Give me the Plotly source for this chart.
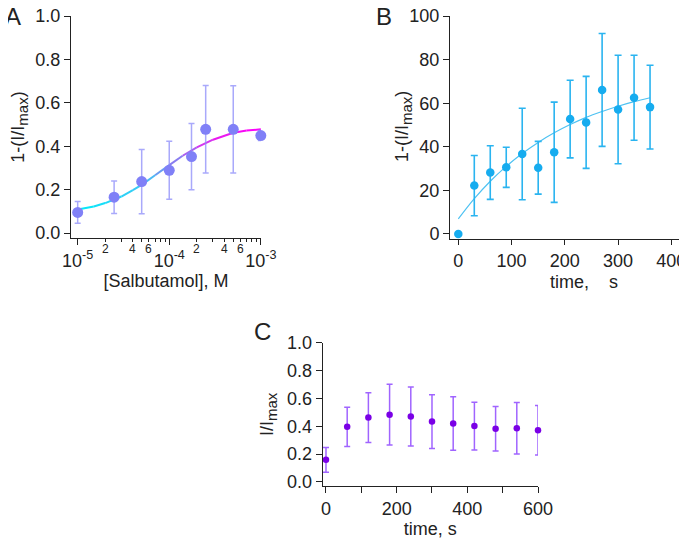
import numpy as np
import plotly.graph_objects as go
from plotly.colors import sample_colorscale

# ---- panel A: concentration response ----
conc = [1e-5, 2.5e-5, 5e-5, 1e-4, 1.75e-4, 2.5e-4, 5e-4, 1e-3]
resp_a = [0.095, 0.165, 0.237, 0.289, 0.352, 0.478, 0.478, 0.449]
err_a = [0.05, 0.075, 0.148, 0.134, 0.153, 0.202, 0.201, 0.023]
# fitted curve
fit_conc = [1e-5, 1.5e-5, 2e-5, 3e-5, 4e-5, 5e-5, 7e-5, 1e-4, 1.4e-4, 2e-4, 3e-4, 5e-4, 7e-4, 1e-3]
fit_a = [0.108, 0.122, 0.138, 0.168, 0.198, 0.222, 0.266, 0.313, 0.356, 0.395, 0.43, 0.462, 0.472, 0.478]
minor_a = [3e-5, 5e-5, 7e-5, 8e-5, 9e-5, 3e-4, 5e-4, 7e-4, 8e-4, 9e-4]
mid_labels_a = [2e-5, 4e-5, 6e-5, 2e-4, 4e-4, 6e-4]
mid_text_a = ["2", "4", "6", "2", "4", "6"]

# ---- panel B: time course ----
time_b = [0, 30, 60, 90, 120, 150, 180, 210, 240, 270, 300, 330, 360]
resp_b = [0, 22.2, 28.2, 30.6, 36.7, 30.4, 37.5, 52.7, 51.2, 66.1, 57.1, 62.5, 58.2]
err_b = [0, 13.8, 12.3, 9.2, 21.0, 12.1, 23.0, 17.8, 21.1, 25.9, 24.9, 19.5, 19.2]
fit_b = [6.9, 16.2, 24.2, 31.0, 36.9, 42.0, 46.4, 50.2, 53.5, 56.2, 58.6, 60.7, 62.5]

# ---- panel C: I/Imax over time ----
time_c = [0, 60, 120, 180, 240, 300, 360, 420, 480, 540, 600]
resp_c = [0.159, 0.396, 0.462, 0.483, 0.47, 0.434, 0.42, 0.401, 0.382, 0.386, 0.371]
err_c = [0.089, 0.141, 0.178, 0.218, 0.212, 0.193, 0.192, 0.172, 0.16, 0.185, 0.178]

# page body has an 8px margin, so the figure is shifted by OFF
OFF = 8
W, H = 687 - OFF, 539 - OFF
FONT = "Liberation Sans, Arial, sans-serif"
INK = "#222222"
NB = "\u00a0"


def px_x(a, b):
    return [(a - OFF) / W, (b - OFF) / W]


def px_y(top, bottom):
    return [1 - (bottom - OFF) / H, 1 - (top - OFF) / H]


def pos(x, y):
    return (x - OFF) / W, 1 - (y - OFF) / H


fig = go.Figure()

# gradient fit line for A, drawn as short segments
grad = [[0, "rgb(0,235,250)"], [0.35, "rgb(60,200,245)"], [0.5, "rgb(120,140,240)"],
        [0.62, "rgb(175,90,240)"], [0.7, "rgb(215,50,240)"], [0.85, "rgb(245,10,240)"],
        [1, "rgb(255,0,255)"]]
for i in range(len(fit_conc) - 1):
    f = (np.log10(fit_conc[i]) + np.log10(fit_conc[i + 1])) / 2
    f = (f + 5) / 2
    col = sample_colorscale(grad, [f])[0]
    fig.add_trace(go.Scatter(x=fit_conc[i:i + 2], y=fit_a[i:i + 2], mode="lines",
                             line=dict(color=col, width=2), xaxis="x", yaxis="y",
                             showlegend=False, hoverinfo="skip"))

fig.add_trace(go.Scatter(
    x=conc, y=resp_a, mode="markers", xaxis="x", yaxis="y", showlegend=False,
    marker=dict(size=11, color="#8080f7"), cliponaxis=False,
    error_y=dict(type="data", array=err_a, color="rgba(140,140,250,0.75)", thickness=1.5, width=3),
))

fig.add_trace(go.Scatter(
    x=time_b, y=fit_b, mode="lines", xaxis="x2", yaxis="y2", showlegend=False,
    line=dict(color="#4ec2f2", width=1.2, shape="spline"),
))
fig.add_trace(go.Scatter(
    x=time_b, y=resp_b, mode="markers", xaxis="x2", yaxis="y2", showlegend=False,
    marker=dict(size=8.5, color="#16acef"), cliponaxis=False,
    error_y=dict(type="data", array=err_b, color="#2ab4f0", thickness=1.6, width=3.5),
))

fig.add_trace(go.Scatter(
    x=time_c, y=resp_c, mode="markers", xaxis="x3", yaxis="y3", showlegend=False,
    marker=dict(size=6.5, color="#7a00e6"), cliponaxis=False,
    error_y=dict(type="data", array=err_c, color="#a064ff", thickness=1.5, width=3),
))

tickfont = dict(family=FONT, size=18, color=INK)
titlefont = dict(family=FONT, size=18, color=INK)
ax = dict(showline=True, linecolor=INK, linewidth=1, ticks="outside", ticklen=6,
          tickcolor=INK, tickwidth=1, showgrid=False, zeroline=False, tickfont=tickfont,
          automargin=False, ticklabeloverflow="allow")
IMAX = "I/I<sub><span style='font-size:15px'>max</span></sub>"

fig.update_layout(
    template="none",
    width=W, height=H, margin=dict(l=0, r=0, t=0, b=0),
    paper_bgcolor="white", plot_bgcolor="white",
    xaxis=dict(ax, type="log", domain=px_x(71, 261), range=[-5.073, -2.998],
               tickvals=[1e-5, 1e-4, 1e-3],
               ticktext=["10<sup>-5</sup>", "10<sup>-4</sup>", "10<sup>-3</sup>"],
               minor=dict(tickvals=minor_a + mid_labels_a, ticklen=3, ticks="outside",
                          tickcolor=INK, tickwidth=1, showgrid=False),
               title=dict(text="[Salbutamol], M", font=titlefont, standoff=2),
               anchor="y"),
    yaxis=dict(ax, domain=px_y(16, 238), range=[-0.023, 1.0], dtick=0.2, tickformat=".1f",
               title=dict(text="1-(" + IMAX + ")", font=titlefont, standoff=11),
               anchor="x"),
    xaxis2=dict(ax, domain=px_x(450, 682), range=[-15.6, 420], dtick=100, ticklen=5,
                anchor="y2"),
    yaxis2=dict(ax, domain=px_y(16, 239), range=[-2.3, 100], dtick=20,
                anchor="x2"),
    xaxis3=dict(ax, domain=px_x(322.7, 538), range=[-9.3, 600], dtick=200,
                minor=dict(dtick=100, ticklen=6, ticks="outside", tickcolor=INK,
                           tickwidth=1, showgrid=False),
                title=dict(text="time, s", font=titlefont, standoff=2),
                anchor="y3"),
    yaxis3=dict(ax, domain=px_y(342.7, 486), range=[-0.029, 1.0], dtick=0.2, tickformat=".1f",
                title=dict(text=IMAX, font=titlefont, standoff=8),
                anchor="x3"),
)

annotations = []
for v, t in zip(mid_labels_a, mid_text_a):
    annotations.append(dict(x=np.log10(v), xref="x", y=pos(0, 240)[1], yref="paper",
                            text=t, showarrow=False, yanchor="top", xanchor="center",
                            font=dict(family=FONT, size=12, color=INK)))
for label, cx, cy in [("A", 13, 17), ("B", 384, 17), ("C", 262, 331)]:
    x, y = pos(cx, cy)
    annotations.append(dict(x=x, y=y, xref="paper", yref="paper",
                            text=label, showarrow=False, xanchor="center", yanchor="middle",
                            font=dict(family=FONT, size=24, color=INK)))
# panel B axis titles
x, y = pos(584, 282)
annotations.append(dict(x=x, y=y, xref="paper", yref="paper", text="time," + NB * 3 + " s",
                        showarrow=False, xanchor="center", yanchor="middle", font=titlefont))
x, y = pos(403, 127)
annotations.append(dict(x=x, y=y, xref="paper", yref="paper", text="1-(" + IMAX + ")",
                        textangle=-90, showarrow=False, xanchor="center", yanchor="middle",
                        font=titlefont))
fig.update_layout(annotations=annotations)

fig.write_html("out.html")
